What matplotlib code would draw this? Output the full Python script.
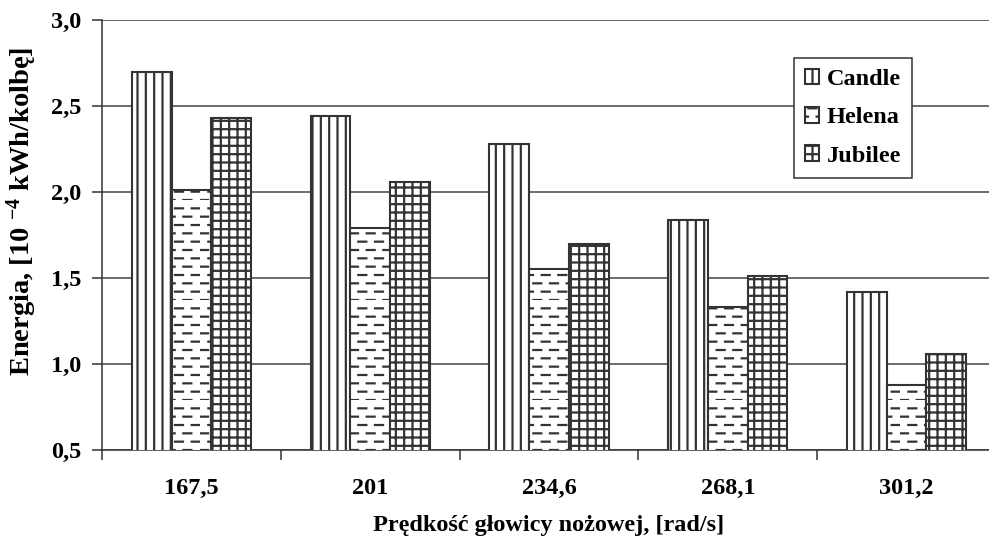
import warnings
import numpy as np
import matplotlib
matplotlib.use("Agg")
import matplotlib.pyplot as plt
from matplotlib import hatch as mhatch
from matplotlib.path import Path

speeds = ['167,5', '201', '234,6', '268,1', '301,2']
candle = [2.70, 2.44, 2.28, 1.84, 1.42]
helena = [2.01, 1.79, 1.55, 1.33, 0.88]
jubilee = [2.43, 2.06, 1.70, 1.51, 1.06]
y_ticks = [0.5, 1.0, 1.5, 2.0, 2.5, 3.0]


# staggered short dashes, like the Excel pattern used for Helena
class DashHatch(mhatch.HatchPatternBase):
    ndash = 6
    dash_len = 0.08

    def __init__(self, hatch, density):
        self.num_rows = int(hatch.count('_') * density)
        self.num_vertices = self.num_rows * self.ndash * 2

    def set_vertices_and_codes(self, vertices, codes):
        step = 1.0 / self.num_rows
        k = 0
        for i in range(self.num_rows):
            y = i * step
            off = (i % 2) * 0.5 / self.ndash
            for j in range(self.ndash):
                x0 = j / self.ndash + off
                vertices[k] = (x0, y)
                vertices[k + 1] = (x0 + self.dash_len, y)
                codes[k] = Path.MOVETO
                codes[k + 1] = Path.LINETO
                k += 2


mhatch._hatch_types.append(DashHatch)
warnings.filterwarnings("ignore")

plt.rcParams['font.family'] = ['Liberation Serif', 'DejaVu Serif']
plt.rcParams['font.weight'] = 'bold'
plt.rcParams['axes.labelweight'] = 'bold'
plt.rcParams['mathtext.fontset'] = 'custom'
plt.rcParams['mathtext.rm'] = 'Liberation Serif:bold'
plt.rcParams['mathtext.bf'] = 'Liberation Serif:bold'
plt.rcParams['mathtext.default'] = 'bf'
plt.rcParams['hatch.linewidth'] = 1.6
plt.rcParams['hatch.color'] = '#333333'

dark = '#333333'
fs = 17.5

fig = plt.figure(figsize=(9.89, 5.45), dpi=100)
ax = fig.add_axes([0.1031, 0.1743, 0.904, 0.789])

x = np.arange(len(speeds))
w = 0.222
ax.bar(x - w, candle, w, color='white', edgecolor=dark,
       linewidth=1.5, hatch='||', label='Candle', zorder=3)
ax.bar(x, helena, w, color='white', edgecolor=dark,
       linewidth=1.5, hatch='__', label='Helena', zorder=3)
ax.bar(x + w, jubilee, w, color='white', edgecolor=dark,
       linewidth=1.5, hatch='++', label='Jubilee', zorder=3)

ax.set_ylim(0.5, 3.0)
ax.set_xlim(-0.5, len(speeds) - 0.5)
ax.set_yticks(y_ticks)
ax.set_yticklabels([f"{v:.1f}".replace('.', ',') for v in y_ticks], fontsize=fs)
ax.yaxis.grid(True, color='#444444', linewidth=1.1)
ax.set_axisbelow(True)

ax.set_xticks(x)
ax.set_xticklabels(speeds, fontsize=fs)
ax.set_xticks(np.arange(len(speeds) + 1) - 0.5, minor=True)
ax.tick_params(axis='x', which='major', length=0, pad=20)
ax.tick_params(axis='x', which='minor', length=7, width=1.1, color=dark)
ax.tick_params(axis='y', length=7, width=1.1, color=dark, pad=8)

for s in ['top', 'right']:
    ax.spines[s].set_visible(False)
for s in ['left', 'bottom']:
    ax.spines[s].set_color(dark)
    ax.spines[s].set_linewidth(1.1)

ax.set_xlabel('Prędkość głowicy nożowej, [rad/s]', fontsize=fs)
ax.xaxis.set_label_coords(0.5, -0.15)
ax.set_ylabel('Energia, [10 $^{-4}$ kWh/kolbę]', fontsize=20.5)
ax.yaxis.set_label_coords(-0.07, 0.555)

leg = ax.legend(loc='upper left', bbox_to_anchor=(0.774, 0.912), fontsize=fs,
                fancybox=False, framealpha=1, edgecolor=dark,
                handlelength=0.6, handleheight=0.6, handletextpad=0.3,
                labelspacing=0.7, borderpad=0.45, borderaxespad=0)
leg.get_frame().set_linewidth(1.1)

fig.savefig('out.png', dpi=100)
